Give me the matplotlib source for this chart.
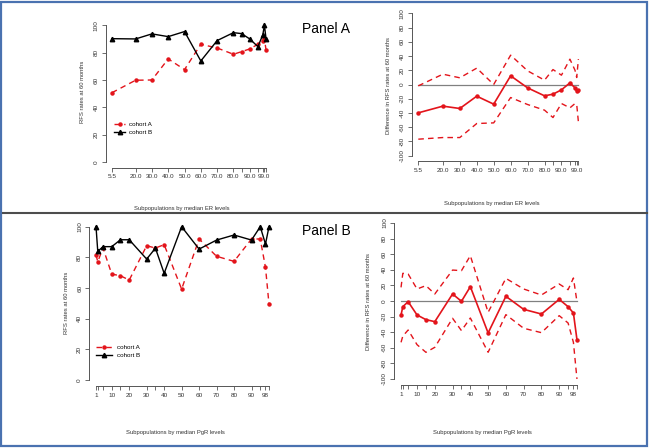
import matplotlib
matplotlib.use("Agg")
import matplotlib.pyplot as plt
from matplotlib.patches import Rectangle
from matplotlib.lines import Line2D

plt.rcParams['font.family'] = ['Liberation Sans', 'DejaVu Sans']

# -----------------------------
# Panel A: ER levels
# -----------------------------
er_levels = [5.5, 20, 30, 40, 50, 60, 70, 80, 85, 90, 95, 98, 99, 100]
er_labels = ["5.5", "20.0", "30.0", "40.0", "50.0", "60.0", "70.0", "80.0", "", "90.0", "", "", "99.0", ""]
er_cohort_a = [50.7, 59.8, 60.0, 75.4, 67.6, 86.1, 83.4, 78.8, 80.7, 82.7, 86.1, 88.5, 90.0, 82.0]
er_cohort_b = [90.2, 90.0, 93.7, 91.7, 95.4, 73.9, 88.8, 94.6, 93.9, 90.0, 84.4, 92.9, 100.0, 90.2]
er_diff = [-39.8, -30.4, -33.7, -16.4, -27.6, 12.2, -4.7, -15.9, -13.6, -7.5, 2.3, -4.7, -9.8, -8.0]
er_upper = [-1.9, 14.5, 9.4, 23.0, 0.0, 41.2, 19.2, 6.1, 21.0, 13.1, 35.6, 20.0, 9.8, 35.6]
er_lower = [-76.8, -74.5, -74.5, -54.8, -53.9, -18.3, -28.1, -36.0, -46.4, -26.7, -32.8, -26.7, -28.0, -52.5]

# -----------------------------
# Panel B: PgR levels
# -----------------------------
pgr_levels = [1, 2, 5, 10, 15, 20, 30, 35, 40, 50, 60, 70, 80, 90, 95, 98, 100]
pgr_labels = ["1", "", "", "10", "", "20", "30", "", "40", "50", "60", "70", "80", "90", "", "98", ""]
pgr_cohort_a = [81.5, 77.2, 86.1, 69.1, 68.0, 65.2, 87.6, 86.1, 88.3, 59.3, 92.0, 80.7, 77.4, 92.0, 92.0, 73.5, 49.6]
pgr_cohort_b = [100.0, 83.9, 87.0, 87.0, 91.5, 91.5, 78.9, 86.0, 69.6, 100.0, 85.4, 91.3, 94.6, 91.3, 100.0, 88.7, 100.0]
pgr_diff = [-17.9, -7.3, -0.9, -17.9, -23.9, -26.5, 9.0, -0.4, 18.4, -41.0, 6.0, -10.7, -16.7, 2.1, -7.3, -15.4, -49.6]
pgr_upper = [17.5, 35.5, 34.6, 15.4, 19.7, 9.0, 39.7, 38.9, 58.1, -14.5, 29.0, 15.4, 7.7, 21.8, 14.5, 29.5, -0.9]
pgr_lower = [-53.0, -45.0, -37.2, -56.0, -65.8, -59.4, -22.2, -38.0, -21.8, -65.8, -17.5, -35.0, -40.6, -18.8, -28.2, -53.0, -100.0]

RED = "#e3141b"
AXC = "#555555"
W, H = 650, 448


def px_axes(fig, left, top, right, bottom):
    return fig.add_axes([left / W, 1 - bottom / H, (right - left) / W, (bottom - top) / H])


def r_style(ax, xs, xlabels, ymin, ymax, yticks):
    pad_x = 0.04 * (max(xs) - min(xs))
    pad_y = 0.04 * (ymax - ymin)
    ax.set_xlim(min(xs) - pad_x, max(xs) + pad_x)
    ax.set_ylim(ymin - pad_y, ymax + pad_y)
    for s in ["top", "right"]:
        ax.spines[s].set_visible(False)
    for s in ["left", "bottom"]:
        ax.spines[s].set_color(AXC)
        ax.spines[s].set_linewidth(0.7)
    ax.spines["left"].set_bounds(ymin, ymax)
    ax.spines["bottom"].set_bounds(min(xs), max(xs))
    ax.set_xticks(xs)
    ax.set_xticklabels(xlabels)
    ax.set_yticks(yticks)
    ax.set_yticklabels([str(t) for t in yticks], rotation=90, va="center")
    ax.tick_params(length=3, width=0.6, color=AXC, labelsize=4.6, pad=2, labelcolor="#333333")
    ax.patch.set_alpha(0)


fig = plt.figure(figsize=(6.5, 4.48), dpi=100)

# frame and divider
fig.patches.append(Rectangle((0.002, 0.004), 0.994, 0.992, transform=fig.transFigure,
                             fill=False, edgecolor="#4a72b0", linewidth=1.6))
fig.lines.append(Line2D([0.004, 0.996], [1 - 213.5 / H, 1 - 213.5 / H], transform=fig.transFigure,
                        color="#4d4d4d", linewidth=1.5))

fig.text(302 / W, 1 - 29 / H, "Panel A", fontsize=10, va="center", ha="left")
fig.text(302 / W, 1 - 231 / H, "Panel B", fontsize=10, va="center", ha="left")

# ---- Panel A left
ax1 = px_axes(fig, 105.8, 19.8, 272.2, 167.5)
ax1.plot(er_levels, er_cohort_a, color=RED, lw=1.0, dashes=(4, 3), marker="o", ms=2.2, label="cohort A")
ax1.plot(er_levels, er_cohort_b, color="black", lw=1.0, marker="^", ms=3.2, label="cohort B")
r_style(ax1, er_levels, er_labels, 0, 100, [0, 20, 40, 60, 80, 100])
ax1.legend(loc="upper left", bbox_to_anchor=(0.03, 0.33), frameon=False, fontsize=4.5,
           handlelength=1.8, handletextpad=0.6, labelspacing=0.35, borderpad=0)

# ---- Panel A right
ax2 = px_axes(fig, 411.9, 7.6, 584.8, 161.4)
ax2.plot([min(er_levels), max(er_levels)], [0, 0], color="#808080", lw=0.9)
ax2.plot(er_levels, er_upper, color=RED, lw=1.0, dashes=(4, 3))
ax2.plot(er_levels, er_lower, color=RED, lw=1.0, dashes=(4, 3))
ax2.plot(er_levels, er_diff, color=RED, lw=1.2, marker="o", ms=2.2)
r_style(ax2, er_levels, er_labels, -100, 100, list(range(-100, 101, 20)))

# ---- Panel B left
ax3 = px_axes(fig, 89.1, 220.6, 275.9, 386.1)
ax3.plot(pgr_levels, pgr_cohort_a, color=RED, lw=1.0, dashes=(4, 3), marker="o", ms=2.2, label="cohort A")
ax3.plot(pgr_levels, pgr_cohort_b, color="black", lw=1.0, marker="^", ms=3.2, label="cohort B")
r_style(ax3, pgr_levels, pgr_labels, 0, 100, [0, 20, 40, 60, 80, 100])
ax3.legend(loc="upper left", bbox_to_anchor=(0.02, 0.27), frameon=False, fontsize=4.5,
           handlelength=2.6, handletextpad=0.8, labelspacing=0.45, borderpad=0)

# ---- Panel B right
ax4 = px_axes(fig, 394.0, 216.8, 584.0, 385.2)
ax4.plot([min(pgr_levels), max(pgr_levels)], [0, 0], color="#808080", lw=0.9)
ax4.plot(pgr_levels, pgr_upper, color=RED, lw=1.0, dashes=(4, 3))
ax4.plot(pgr_levels, pgr_lower, color=RED, lw=1.0, dashes=(4, 3))
ax4.plot(pgr_levels, pgr_diff, color=RED, lw=1.2, marker="o", ms=2.2)
r_style(ax4, pgr_levels, pgr_labels, -100, 100, list(range(-100, 101, 20)))

# axis titles
small = dict(fontsize=4.2, color="#333333", ha="center", va="center")
fig.text(182 / W, 1 - 208 / H, "Subpopulations by median ER levels", **small)
fig.text(492 / W, 1 - 204 / H, "Subpopulations by median ER levels", **small)
fig.text(175 / W, 1 - 432 / H, "Subpopulations by median PgR levels", **small)
fig.text(482 / W, 1 - 432 / H, "Subpopulations by median PgR levels", **small)
fig.text(83 / W, 1 - 92 / H, "RFS rates at 60 months", rotation=90, **small)
fig.text(388 / W, 1 - 85 / H, "Difference in RFS rates at 60 months", rotation=90, **small)
fig.text(67 / W, 1 - 303 / H, "RFS rates at 60 months", rotation=90, **small)
fig.text(369 / W, 1 - 301 / H, "Difference in RFS rates at 60 months", rotation=90, **small)

fig.savefig("out.png", dpi=100)
